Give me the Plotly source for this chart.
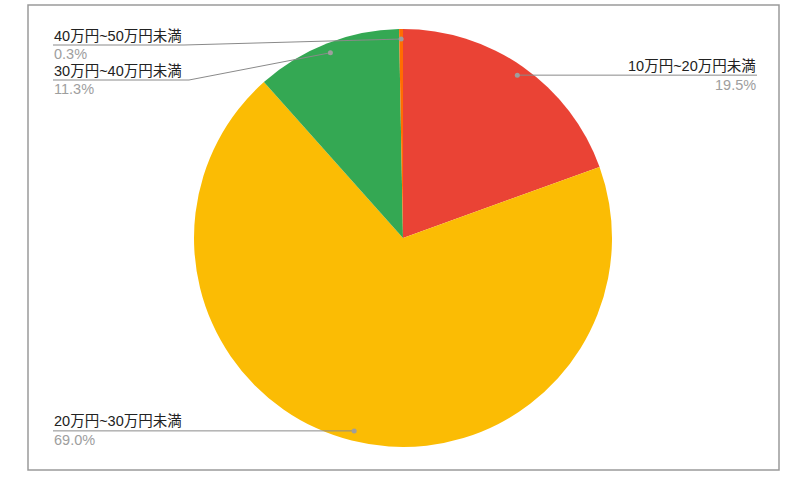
import math
import plotly.graph_objects as go

categories = ["10万円~20万円未満", "20万円~30万円未満", "30万円~40万円未満", "40万円~50万円未満"]
values = [19.5, 69.0, 11.3, 0.3]
colors = ["#EA4335", "#FBBC04", "#34A853", "#FF6D01"]

W, H = 811, 487
CX, CY, R = 403, 238, 209  # pie centre / radius in pixels
DOT_R = 0.952 * R

def px(x):
    return x / W

def py(y):
    return 1 - y / H

fig = go.Figure()
fig.add_trace(go.Pie(
    labels=categories, values=values, sort=False, direction="clockwise", rotation=0,
    marker=dict(colors=colors, line=dict(width=0)),
    textinfo="none", hoverinfo="label+percent", showlegend=False,
    domain=dict(x=[px(CX - R), px(CX + R)], y=[py(CY + R), py(CY - R)]),
))

label_layout = {
    "10万円~20万円未満": dict(side="right", end_x=757, y=None),
    "20万円~30万円未満": dict(side="left", end_x=53, y=None),
    "30万円~40万円未満": dict(side="left", end_x=53, y=80, elbow=189),
    "40万円~50万円未満": dict(side="left", end_x=53, y=45, elbow=184),
}

FONT = "Arial, 'Liberation Sans', 'Noto Sans CJK JP', sans-serif"
total = sum(values)
shapes = []
annotations = []
cum = 0.0
line_col = "#8a8a8a"
for cat, v in zip(categories, values):
    mid = (cum + v / 2) / total * 2 * math.pi
    cum += v
    dx = CX + DOT_R * math.sin(mid)
    dy = CY - DOT_R * math.cos(mid)
    lay = label_layout[cat]
    uy = lay["y"] if lay["y"] is not None else dy
    if "elbow" in lay:
        shapes.append(dict(type="line", xref="paper", yref="paper",
                           x0=px(dx), y0=py(dy), x1=px(lay["elbow"]), y1=py(uy),
                           line=dict(color=line_col, width=1)))
        shapes.append(dict(type="line", xref="paper", yref="paper",
                           x0=px(lay["elbow"]), y0=py(uy), x1=px(lay["end_x"]), y1=py(uy),
                           line=dict(color=line_col, width=1)))
    else:
        shapes.append(dict(type="line", xref="paper", yref="paper",
                           x0=px(dx), y0=py(dy), x1=px(lay["end_x"]), y1=py(uy),
                           line=dict(color=line_col, width=1)))
    shapes.append(dict(type="circle", xref="paper", yref="paper",
                       x0=px(dx - 2.5), x1=px(dx + 2.5), y0=py(dy + 2.5), y1=py(dy - 2.5),
                       fillcolor="#9e9e9e", line=dict(width=0)))
    anchor = "left" if lay["side"] == "left" else "right"
    annotations.append(dict(x=px(lay["end_x"]), y=py(uy - 0.5), xref="paper", yref="paper",
                            text=cat, showarrow=False, xanchor=anchor, yanchor="bottom",
                            borderpad=0,
                            font=dict(size=14.5, color="#222222", family=FONT)))
    annotations.append(dict(x=px(lay["end_x"]), y=py(uy + 0.5), xref="paper", yref="paper",
                            text=f"{v:.1f}%", showarrow=False, xanchor=anchor, yanchor="top",
                            borderpad=0,
                            font=dict(size=14.5, color="#9e9e9e", family=FONT)))

# outer border
shapes.append(dict(type="rect", xref="paper", yref="paper",
                   x0=px(28), x1=px(779), y0=py(470), y1=py(5),
                   line=dict(color="#9a9a9a", width=1.5), fillcolor="rgba(0,0,0,0)"))

fig.update_layout(
    width=W, height=H, margin=dict(l=0, r=0, t=0, b=0),
    paper_bgcolor="white", plot_bgcolor="white",
    shapes=shapes, annotations=annotations,
)
fig.write_html("out.html", config={"displayModeBar": False},
               post_script="document.body.style.margin='0';")
